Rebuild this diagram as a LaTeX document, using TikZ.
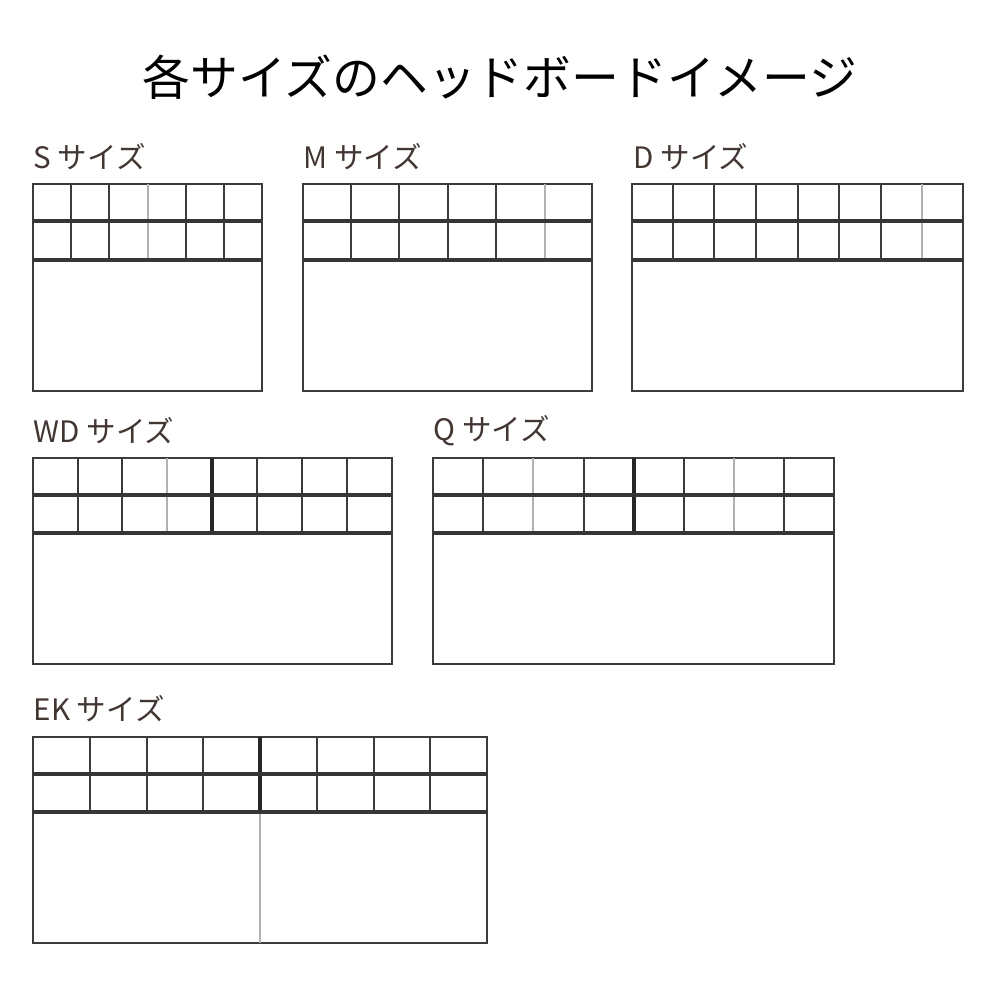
\documentclass[tikz,border=0pt]{standalone}
\usepackage{fontspec}
\setmainfont{Noto Sans CJK JP}
\definecolor{labelbrown}{RGB}{66,54,50}
\definecolor{gridgray}{RGB}{60,60,60}

\begin{document}
\begin{tikzpicture}[x=0.01cm, y=-0.01cm,
		frame/.style={line width=0.6pt, draw=gridgray},
		rowline/.style={line width=0.9pt, draw=gridgray!90!black},
		faint/.style={line width=0.6pt, draw=gray!60},
		midline/.style={line width=1.1pt, draw=black!85},
		sizelabel/.style={anchor=west, inner sep=0pt, text=labelbrown, font=\fontsize{8.4pt}{10pt}\selectfont}]
				\useasboundingbox (0,0) rectangle (1000,1000);
				\node[inner sep=0pt, font=\fontsize{13.6pt}{16pt}\selectfont] (title) at (500,77) {各サイズのヘッドボードイメージ};
				% S
				\node[sizelabel] (slabel) at (33,157) {S サイズ};
				\draw[frame] (33,184) rectangle (262,391);
				\foreach \x in {71,109,186,224} \draw[frame] (\x,184) -- (\x,260);
				\draw[faint] (148,184) -- (148,260);
				\draw[rowline] (33,221) -- (262,221) (33,260) -- (262,260);
				% M
				\node[sizelabel] (mlabel) at (303,157) {M サイズ};
				\draw[frame] (303,184) rectangle (592,391);
				\foreach \x in {351,399,448,496} \draw[frame] (\x,184) -- (\x,260);
				\draw[faint] (545,184) -- (545,260);
				\draw[rowline] (303,221) -- (592,221) (303,260) -- (592,260);
				% D
				\node[sizelabel] (dlabel) at (633,157) {D サイズ};
				\draw[frame] (632,184) rectangle (963,391);
				\foreach \x in {673,714,756,798,839,881} \draw[frame] (\x,184) -- (\x,260);
				\draw[faint] (922,184) -- (922,260);
				\draw[rowline] (632,221) -- (963,221) (632,260) -- (963,260);
				% WD
				\node[sizelabel] (wdlabel) at (33,431) {WD サイズ};
				\draw[frame] (33,458) rectangle (392,664);
				\foreach \x in {78,122,257,302,347} \draw[frame] (\x,458) -- (\x,533);
				\draw[faint] (167,458) -- (167,533);
				\draw[midline] (212,458) -- (212,533);
				\draw[rowline] (33,495) -- (392,495) (33,533) -- (392,533);
				% Q
				\node[sizelabel] (qlabel) at (433,431) {Q サイズ};
				\draw[frame] (433,458) rectangle (834,664);
				\foreach \x in {483,584,684,784} \draw[frame] (\x,458) -- (\x,533);
				\foreach \x in {533,734} \draw[faint] (\x,458) -- (\x,533);
				\draw[midline] (634,458) -- (634,533);
				\draw[rowline] (433,495) -- (834,495) (433,533) -- (834,533);
				% EK
				\node[sizelabel] (eklabel) at (33,709) {EK サイズ};
				\draw[frame] (33,737) rectangle (487,943);
				\foreach \x in {90,147,203,317,374,430} \draw[frame] (\x,737) -- (\x,812);
				\draw[midline] (260,737) -- (260,812);
				\draw[faint] (260,812) -- (260,943);
				\draw[rowline] (33,774) -- (487,774) (33,812) -- (487,812);
		\end{tikzpicture}
\end{document}
